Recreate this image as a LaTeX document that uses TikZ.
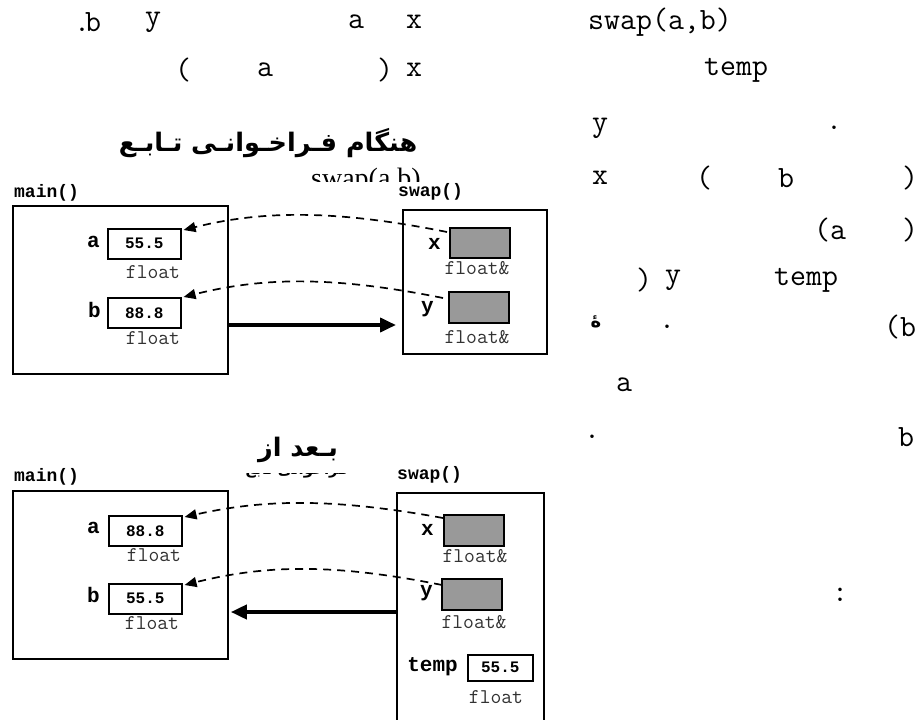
\documentclass[tikz,border=0pt]{standalone}
\usepackage{fontspec}
\setmainfont{Liberation Serif}
\newfontfamily\monof{Liberation Mono}
\newfontfamily\arabf[Script=Arabic]{DejaVu Sans}
\TeXXeTstate=1
\usetikzlibrary{arrows.meta,calc}
\definecolor{refgray}{RGB}{153,153,153}
\definecolor{typegray}{RGB}{50,50,50}
\tikzset{
  frame/.style={draw, line width=1.8pt, inner sep=0pt, anchor=north west},
  valbox/.style={draw, line width=1.6pt, inner sep=0pt, anchor=north west,
    minimum width=73pt, minimum height=30pt, font=\monof\bfseries\fontsize{16}{18}\selectfont},
  refbox/.style={draw, line width=2pt, fill=refgray, inner sep=0pt, anchor=north west,
    minimum width=60pt, minimum height=31pt},
  vlabel/.style={font=\monof\bfseries\fontsize{21}{23}\selectfont, inner sep=0pt},
  fnlabel/.style={font=\monof\bfseries\fontsize{18}{20}\selectfont, inner sep=0pt, anchor=west},
  tlabel/.style={font=\ttfamily\fontsize{21}{23}\selectfont, text=typegray, inner sep=0pt},
  toptext/.style={font=\ttfamily\fontsize{31}{33}\selectfont, inner sep=0pt, anchor=west},
  dasharrow/.style={dash pattern=on 8pt off 6pt, line width=1.7pt,
    -{Triangle[length=12pt,width=10pt]}},
  thickarrow/.style={line width=3.8pt, -{Triangle[length=16pt,width=14pt]}},
}
\begin{document}
\begin{tikzpicture}[x=1pt,y=-1pt]
\useasboundingbox (0,0) rectangle (922,720);

% ---- top text fragments ----
\node[toptext] (l1a) at (74,22) {.\kern-5pt b};
\node[toptext] (l1b) at (145,22) {y};
\node[toptext] (l1c) at (348,22) {a};
\node[toptext] (l1d) at (406,22) {x};
\node[toptext] (l1e) at (588,22) {swap(a,b)};
\node[toptext] (l2a) at (175,70) {(};
\node[toptext] (l2b) at (257,70) {a};
\node[toptext] (l2c) at (377,70) {)};
\node[toptext] (l2d) at (406,70) {x};
\node[toptext] (l2e) at (704,70) {temp};

% ---- right column ----
\node[toptext] (r1a) at (592,128) {y};
\node[toptext] (r1b) at (826,128) {.};
\node[toptext] (r2a) at (592,178) {x};
\node[toptext] (r2b) at (696,178) {(};
\node[toptext] (r2c) at (778,178) {b};
\node[toptext] (r2d) at (902,178) {)};
\node[toptext] (r3a) at (814,230) {(a};
\node[toptext] (r3b) at (902,230) {)};
\node[toptext] (r4a) at (636,280) {)};
\node[toptext] (r4b) at (665,280) {y};
\node[toptext] (r4c) at (774,280) {temp};
\node[font=\arabf\bfseries\fontsize{18}{20}\selectfont, inner sep=0pt] (r5a) at (596,322) {\beginR هٔ\endR};
\node[toptext] (r5b) at (659,327) {.};
\node[toptext] (r5c) at (884,327) {(b};
\node[toptext] (r6a) at (616,385) {a};
\node[toptext] (r7a) at (584,437) {.};
\node[toptext] (r7b) at (898,437) {b};
\node[toptext] (r8a) at (832,595) {:};

% ---- diagram 1 ----
\node[font=\arabf\bfseries\fontsize{25.5}{28}\selectfont, inner sep=0pt] (title1) at (268,143)
  {\beginR هنگام  فـراخـوانـی  تـابـع\endR};
\begin{scope}
  \clip (300,160) rectangle (440,181);
  \node[font=\fontsize{28}{30}\selectfont, inner sep=0pt, anchor=base west] (cap1) at (311,187) {swap(a,b)};
\end{scope}
\node[fnlabel] (mainl1) at (14,193) {main()};
\node[fnlabel] (swapl1) at (398,192) {swap()};
\node[frame, minimum width=215pt, minimum height=168pt] (main1) at (12,205) {};
\node[frame, minimum width=144pt, minimum height=144pt] (swap1) at (402,209) {};

\node[valbox] (a1) at (107,228) {55.5};
\node[vlabel, anchor=east] (al1) at (100,242) {a};
\node[tlabel] (fa1) at (153,272) {float};
\node[valbox] (b1) at (107,297) {88.8};
\node[vlabel, anchor=east] (bl1) at (101,310) {b};
\node[tlabel] (fb1) at (153,338) {float};

\node[refbox, minimum height=30pt] (x1) at (449,227) {};
\node[vlabel, anchor=east] (xl1) at (441,244) {x};
\node[tlabel] (fx1) at (477,268) {float\&};
\node[refbox] (y1) at (448,291) {};
\node[vlabel, anchor=east] (yl1) at (434,309) {y};
\node[tlabel] (fy1) at (477,337) {float\&};

\draw[dasharrow] ($(x1.north west)+(-2,5)$) .. controls +(-110,-22) and +(80,-20) .. ($(a1.north east)+(2,2)$);
\draw[dasharrow] ($(y1.north west)+(-5,7)$) .. controls +(-110,-22) and +(80,-20) .. ($(b1.north east)+(2,0)$);
\draw[thickarrow] ($(main1.north east)+(0,120)$) -- ($(swap1.north west)+(-6,116)$);

% ---- diagram 2 ----
\node[font=\arabf\bfseries\fontsize{25.5}{28}\selectfont, inner sep=0pt] (title2) at (298,450)
  {\beginR بـعد  از\endR};
\begin{scope}
  \clip (240,473) rectangle (360,482);
  \node[font=\arabf\bfseries\fontsize{15}{17}\selectfont, inner sep=0pt, anchor=base] (cap2) at (297,474)
    {\beginR فراخوانی تابع\endR};
\end{scope}
\node[fnlabel] (mainl2) at (14,477) {main()};
\node[fnlabel] (swapl2) at (397,475) {swap()};
\node[frame, minimum width=215pt, minimum height=168pt] (main2) at (12,490) {};
\node[frame, minimum width=147pt, minimum height=250pt] (swap2) at (396,492) {};

\node[valbox] (a2) at (108,515) {88.8};
\node[vlabel, anchor=east] (al2) at (100,528) {a};
\node[tlabel] (fa2) at (154,555) {float};
\node[valbox] (b2) at (108,583) {55.5};
\node[vlabel, anchor=east] (bl2) at (100,595) {b};
\node[tlabel] (fb2) at (152,623) {float};

\node[refbox] (x2) at (443,514) {};
\node[vlabel, anchor=east] (xl2) at (434,530) {x};
\node[tlabel] (fx2) at (475,556) {float\&};
\node[refbox] (y2) at (441,578) {};
\node[vlabel, anchor=east] (yl2) at (433,593) {y};
\node[tlabel] (fy2) at (474,622) {float\&};

\node[vlabel, anchor=east] (tl2) at (458,667) {temp};
\node[valbox, minimum width=65pt, minimum height=26pt] (t2) at (467,654) {55.5};
\node[tlabel] (ft2) at (496,697) {float};

\draw[dasharrow] ($(x2.north west)+(0,4)$) .. controls +(-110,-20) and +(80,-18) .. ($(a2.north east)+(2,2)$);
\draw[dasharrow] ($(y2.north west)+(1,7)$) .. controls +(-110,-22) and +(80,-20) .. ($(b2.north east)+(2,2)$);
\draw[thickarrow] ($(swap2.north west)+(0,120)$) -- ($(main2.north east)+(2,122)$);
\end{tikzpicture}
\end{document}
